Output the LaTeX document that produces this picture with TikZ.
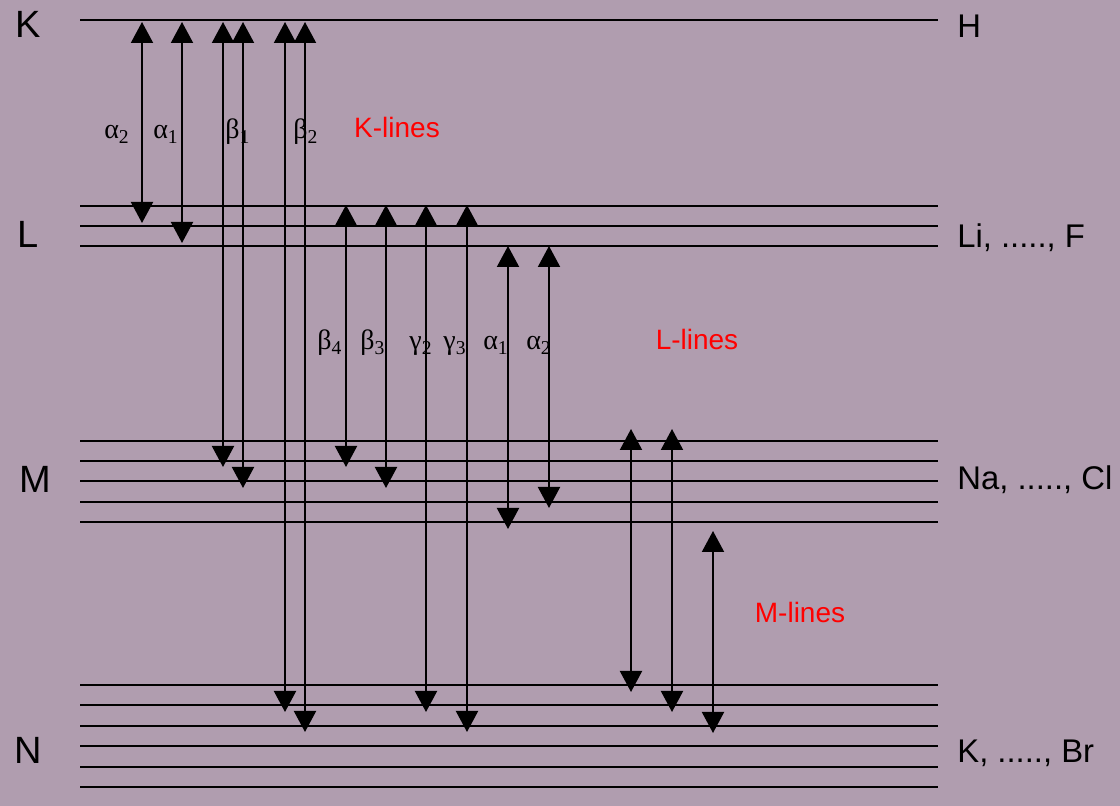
\documentclass[tikz,border=0pt]{standalone}
\usepackage{fontspec}
\setmainfont{Liberation Sans}
\newfontfamily\grk{Liberation Serif}
\usetikzlibrary{arrows.meta}
\definecolor{backdrop}{HTML}{B09DAF}
\definecolor{tag}{HTML}{FF0000}

\begin{document}
\begin{tikzpicture}[x=0.5pt,y=-0.5pt,
 lvl/.style={line width=1pt,draw=black},
 arr/.style={{Triangle[width=11pt,length=10.5pt]}-{Triangle[width=11pt,length=10.5pt]},line width=1pt,draw=black},
 shell/.style={inner sep=0pt,anchor=base,font=\fontsize{19}{22}\selectfont},
 elem/.style={inner sep=0pt,anchor=base west,font=\fontsize{16.4}{19}\selectfont},
 grp/.style={inner sep=0pt,anchor=base,text=tag,font=\fontsize{14}{16}\selectfont},
 gk/.style={inner sep=0pt,anchor=base,font=\grk\fontsize{14}{16}\selectfont}]
\fill[backdrop] (0,0) rectangle (1120,806);
\useasboundingbox (0,0) rectangle (1120,806);
% energy levels
\draw[lvl] (80,20)--(938,20);
\draw[lvl] (80,206)--(938,206); \draw[lvl] (80,226)--(938,226); \draw[lvl] (80,246)--(938,246);
\draw[lvl] (80,441)--(938,441); \draw[lvl] (80,461)--(938,461); \draw[lvl] (80,481)--(938,481);
\draw[lvl] (80,502)--(938,502); \draw[lvl] (80,522)--(938,522);
\draw[lvl] (80,685)--(938,685); \draw[lvl] (80,705)--(938,705); \draw[lvl] (80,726)--(938,726);
\draw[lvl] (80,746)--(938,746); \draw[lvl] (80,767)--(938,767); \draw[lvl] (80,787)--(938,787);
% shells and elements
\node[shell] (shK) at (28,38) {K};
\node[shell] (shL) at (28,248) {L};
\node[shell] (shM) at (35,493) {M};
\node[shell] (shN) at (28,764) {N};
\node[elem] (elH) at (957,38) {H};
\node[elem] (elLi) at (957,248) {Li, ....., F};
\node[elem] (elNa) at (957,490) {Na, ....., Cl};
\node[elem] (elK) at (957,763) {K, ....., Br};
% K-lines
\draw[arr] (142,22)--(142,223); \draw[arr] (182,22)--(182,243);
\draw[arr] (223,22)--(223,467); \draw[arr] (243,22)--(243,488);
\draw[arr] (285,22)--(285,712); \draw[arr] (305,22)--(305,732);
\node[gk] (ka2) at (117,139) {α\textsubscript{2}};
\node[gk] (ka1) at (166,139) {α\textsubscript{1}};
\node[gk] (kb1) at (238,139) {β\textsubscript{1}};
\node[gk] (kb2) at (306,139) {β\textsubscript{2}};
\node[grp] (kgrp) at (397,138) {K-lines};
% L-lines
\draw[arr] (346,205)--(346,467); \draw[arr] (386,205)--(386,488);
\draw[arr] (426,205)--(426,712); \draw[arr] (467,205)--(467,732);
\draw[arr] (508,246)--(508,529); \draw[arr] (549,246)--(549,508);
\node[gk] (lb4) at (330,350) {β\textsubscript{4}};
\node[gk] (lb3) at (373,350) {β\textsubscript{3}};
\node[gk] (lg2) at (421,350) {γ\textsubscript{2}};
\node[gk] (lg3) at (455,350) {γ\textsubscript{3}};
\node[gk] (la1) at (496,350) {α\textsubscript{1}};
\node[gk] (la2) at (539,350) {α\textsubscript{2}};
\node[grp] (lgrp) at (697,350) {L-lines};
% M-lines
\draw[arr] (631,429)--(631,692); \draw[arr] (672,429)--(672,712);
\draw[arr] (713,531)--(713,733);
\node[grp] (mgrp) at (800,623) {M-lines};
\end{tikzpicture}
\end{document}
